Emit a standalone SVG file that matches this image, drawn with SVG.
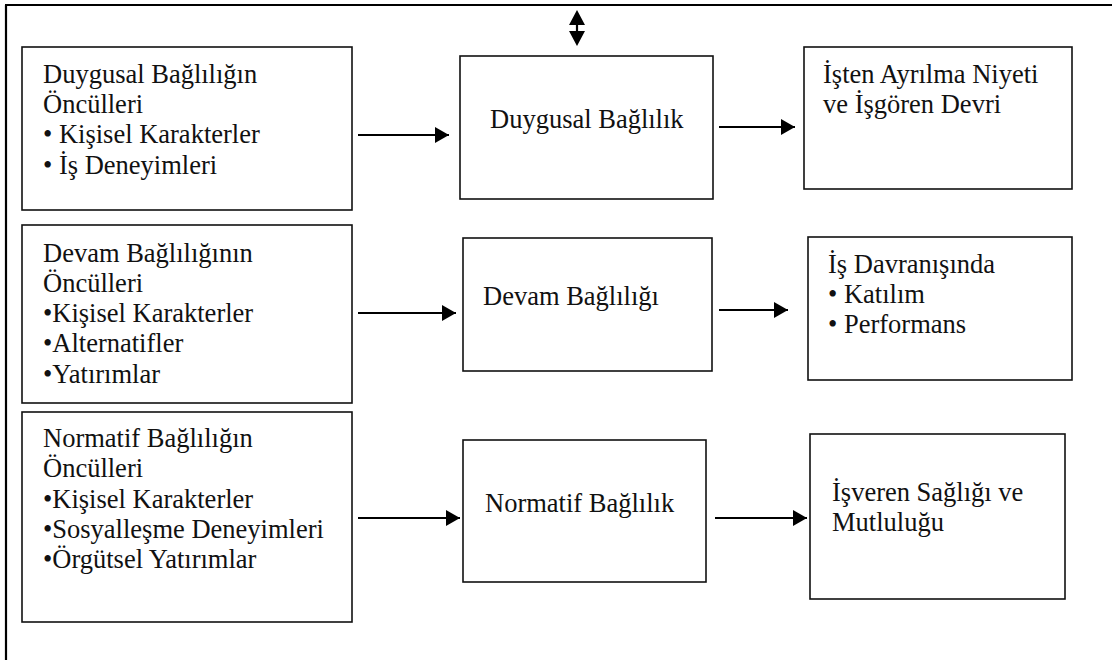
<svg xmlns="http://www.w3.org/2000/svg" width="1112" height="660" viewBox="0 0 1112 660">
  <style>
    .box { fill: #ffffff; stroke: #111111; stroke-width: 1.6; }
    .frame { fill: none; stroke: #000000; stroke-width: 2.2; }
    .lbl { font-size: 26.5px; fill: #111111; }
    .conn { stroke: #000000; stroke-width: 2.2; fill: none; }
    .head { fill: #000000; }
  </style>
  <defs>
    <marker id="arrow" markerWidth="14" markerHeight="16" refX="14" refY="8" orient="auto" markerUnits="userSpaceOnUse">
      <path d="M0,0 L14,8 L0,16 Z" class="head"/>
    </marker>
  </defs>

  <rect x="0" y="0" width="1112" height="660" fill="#ffffff"/>

  <!-- outer frame: top rule and left rule -->
  <g id="frame">
    <line class="frame" x1="5" y1="5" x2="1112" y2="5"/>
    <line class="frame" x1="6" y1="5" x2="6" y2="660"/>
  </g>

  <g font-family="Liberation Serif, DejaVu Serif, serif">
  <!-- row 1: affective commitment -->
  <g id="duygusal-onculler">
    <rect class="box" x="22" y="47" width="330" height="163"/>
    <text class="lbl" x="43" y="83">Duygusal Bağlılığın</text>
    <text class="lbl" x="43" y="113">Öncülleri</text>
    <text class="lbl" x="43" y="143">• Kişisel Karakterler</text>
    <text class="lbl" x="43" y="174">• İş Deneyimleri</text>
  </g>
  <g id="duygusal-baglilik">
    <rect class="box" x="460" y="56" width="253" height="143"/>
    <text class="lbl" x="490" y="128">Duygusal Bağlılık</text>
  </g>
  <g id="isten-ayrilma">
    <rect class="box" x="804" y="47" width="268" height="142"/>
    <text class="lbl" x="823" y="83">İşten Ayrılma Niyeti</text>
    <text class="lbl" x="823" y="113">ve İşgören Devri</text>
  </g>

  <!-- row 2: continuance commitment -->
  <g id="devam-onculler">
    <rect class="box" x="22" y="225" width="330" height="178"/>
    <text class="lbl" x="43" y="262">Devam Bağlılığının</text>
    <text class="lbl" x="43" y="292">Öncülleri</text>
    <text class="lbl" x="43" y="322">•Kişisel Karakterler</text>
    <text class="lbl" x="43" y="352">•Alternatifler</text>
    <text class="lbl" x="43" y="383">•Yatırımlar</text>
  </g>
  <g id="devam-baglilik">
    <rect class="box" x="463" y="238" width="249" height="133"/>
    <text class="lbl" x="483" y="305">Devam Bağlılığı</text>
  </g>
  <g id="is-davranisi">
    <rect class="box" x="808" y="237" width="264" height="143"/>
    <text class="lbl" x="828" y="273">İş Davranışında</text>
    <text class="lbl" x="828" y="303">• Katılım</text>
    <text class="lbl" x="828" y="333">• Performans</text>
  </g>

  <!-- row 3: normative commitment -->
  <g id="normatif-onculler">
    <rect class="box" x="22" y="412" width="330" height="210"/>
    <text class="lbl" x="43" y="447">Normatif Bağlılığın</text>
    <text class="lbl" x="43" y="477">Öncülleri</text>
    <text class="lbl" x="43" y="508">•Kişisel Karakterler</text>
    <text class="lbl" x="43" y="538">•Sosyalleşme Deneyimleri</text>
    <text class="lbl" x="43" y="568">•Örgütsel Yatırımlar</text>
  </g>
  <g id="normatif-baglilik">
    <rect class="box" x="463" y="440" width="243" height="142"/>
    <text class="lbl" x="485" y="512">Normatif Bağlılık</text>
  </g>
  <g id="isveren-sagligi">
    <rect class="box" x="810" y="434" width="255" height="165"/>
    <text class="lbl" x="832" y="501">İşveren Sağlığı ve</text>
    <text class="lbl" x="832" y="531">Mutluluğu</text>
  </g>
  </g>

  <!-- connectors -->
  <g id="connectors">
    <line class="conn" x1="358" y1="135" x2="449" y2="135" marker-end="url(#arrow)"/>
    <line class="conn" x1="719" y1="127" x2="795" y2="127" marker-end="url(#arrow)"/>
    <line class="conn" x1="358" y1="313" x2="456" y2="313" marker-end="url(#arrow)"/>
    <line class="conn" x1="719" y1="310" x2="788" y2="310" marker-end="url(#arrow)"/>
    <line class="conn" x1="358" y1="518" x2="460" y2="518" marker-end="url(#arrow)"/>
    <line class="conn" x1="715" y1="518" x2="807" y2="518" marker-end="url(#arrow)"/>
    <!-- two-headed arrow under the top rule -->
    <line class="conn" x1="577" y1="22" x2="577" y2="34"/>
    <path class="head" d="M577,10 L585,25 L569,25 Z"/>
    <path class="head" d="M569,31 L585,31 L577,46 Z"/>
  </g>
</svg>
